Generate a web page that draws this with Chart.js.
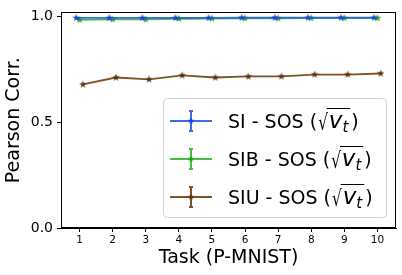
<!DOCTYPE html>
<html>
<head>
<meta charset="utf-8">
<script src="https://cdn.jsdelivr.net/npm/chart.js@4.4.0/dist/chart.umd.min.js"></script>
<style>
  html, body { margin: 0; padding: 0; background: #fff; }
  #grafik { display: block; }
</style>
</head>
<body>
<canvas id="grafik" width="402" height="275"></canvas>
<script>
// data
const tasks = [1, 2, 3, 4, 5, 6, 7, 8, 9, 10];
const siSos = [0.994, 0.994, 0.994, 0.994, 0.994, 0.995, 0.995, 0.995, 0.995, 0.995];
const sibSos = [0.985, 0.987, 0.987, 0.990, 0.991, 0.992, 0.992, 0.993, 0.993, 0.993];
const siuSos = [0.679, 0.712, 0.703, 0.722, 0.712, 0.717, 0.717, 0.726, 0.726, 0.731];
const seriesNames = ['SI', 'SIB', 'SIU'];
const yTicks = [0, 0.5, 1.0];
const dodge = 0.1; // geser sedikit supaya titik tidak bertumpuk

const warna = [
    { line: 'rgba(30,80,230,0.85)', mark: '#1a40d8' },
    { line: 'rgba(30,180,30,0.85)', mark: '#1aa01a' },
    { line: 'rgba(110,65,15,0.9)', mark: '#5a3000' }
];

const FONT = '"DejaVu Sans", sans-serif';

function bintang(r, color) {
    const c = document.createElement('canvas');
    const s = Math.ceil(r * 2 + 2);
    c.width = s; c.height = s;
    const g = c.getContext('2d');
    g.fillStyle = color;
    g.beginPath();
    for (let i = 0; i < 10; i++) {
        const rad = i % 2 === 0 ? r : r * 0.382;
        const a = -Math.PI / 2 + i * Math.PI / 5;
        const px = s / 2 + rad * Math.cos(a);
        const py = s / 2 + rad * Math.sin(a);
        i === 0 ? g.moveTo(px, py) : g.lineTo(px, py);
    }
    g.closePath();
    g.fill();
    return c;
}

function buatSeri(vals, idx) {
    const geser = (idx - 1) * dodge;
    return {
        label: seriesNames[idx] + ' - SOS',
        data: tasks.map((t, i) => ({ x: t + geser, y: vals[i] })),
        borderColor: warna[idx].line,
        backgroundColor: warna[idx].mark,
        borderWidth: 1.8,
        pointStyle: bintang(4, warna[idx].mark),
        pointRadius: 4,
        tension: 0
    };
}

// bingkai atas & kanan + legenda
const pluginBingkai = {
    id: 'bingkai',
    afterDraw(chart) {
        const { ctx, chartArea: a } = chart;
        ctx.save();
        ctx.strokeStyle = '#000';
        ctx.lineWidth = 1;
        ctx.strokeRect(Math.round(a.left) + 0.5, Math.round(a.top) + 0.5,
            Math.round(a.right - a.left) - 1, Math.round(a.bottom - a.top) - 1);

        // kotak legenda
        const bx = 163, by = 98, bw = 223, bh = 119, r = 4;
        ctx.beginPath();
        ctx.roundRect(bx + 0.5, by + 0.5, bw, bh, r);
        ctx.fillStyle = 'rgba(255,255,255,0.8)';
        ctx.fill();
        ctx.strokeStyle = '#d0d0d0';
        ctx.stroke();

        seriesNames.forEach((nama, i) => {
            const cy = 121 + i * 38;
            ctx.strokeStyle = warna[i].line;
            ctx.lineWidth = 2;
            ctx.beginPath();
            ctx.moveTo(170, cy); ctx.lineTo(212, cy);
            ctx.moveTo(191, cy - 10); ctx.lineTo(191, cy + 10);
            ctx.moveTo(189, cy - 10); ctx.lineTo(193, cy - 10);
            ctx.moveTo(189, cy + 10); ctx.lineTo(193, cy + 10);
            ctx.stroke();
            const b = bintang(3.5, warna[i].mark);
            ctx.drawImage(b, 191 - b.width / 2, cy - b.height / 2);
            tulisLabel(ctx, 228, cy + 7, nama + ' - SOS (');
        });
        ctx.restore();
    }
};

function tulisLabel(ctx, x, base, awal) {
    ctx.fillStyle = '#000';
    ctx.strokeStyle = '#000';
    ctx.textBaseline = 'alphabetic';
    ctx.textAlign = 'left';
    ctx.font = '19px ' + FONT;
    ctx.fillText(awal, x, base);
    x += ctx.measureText(awal).width + 1;
    // tanda akar sedikit lebih tinggi
    ctx.save();
    ctx.translate(x, base + 2);
    ctx.scale(0.8, 1.15);
    ctx.fillText('\u221A', 0, 0);
    ctx.restore();
    x += ctx.measureText('\u221A').width * 0.8;
    const garisMulai = x - 1;
    x += 1;
    ctx.font = 'italic 23px ' + FONT;
    ctx.fillText('v', x, base);
    x += ctx.measureText('v').width;
    ctx.font = 'italic 15px ' + FONT;
    ctx.fillText('t', x, base + 4);
    x += ctx.measureText('t').width + 2;
    ctx.lineWidth = 1;
    ctx.beginPath();
    ctx.moveTo(garisMulai, base - 19.5);
    ctx.lineTo(x, base - 19.5);
    ctx.stroke();
    ctx.font = '19px ' + FONT;
    ctx.fillText(')', x + 1, base);
}

new Chart(document.getElementById('grafik').getContext('2d'), {
    type: 'line',
    data: {
        datasets: [buatSeri(siSos, 0), buatSeri(sibSos, 1), buatSeri(siuSos, 2)]
    },
    options: {
        responsive: false,
        animation: false,
        devicePixelRatio: 1,
        layout: { padding: { left: 0, right: 6, top: 9, bottom: 0 } },
        plugins: { legend: { display: false }, tooltip: { enabled: false } },
        scales: {
            x: {
                type: 'linear',
                min: 0.44,
                max: 10.56,
                afterBuildTicks: s => { s.ticks = tasks.map(v => ({ value: v })); },
                afterFit: s => { s.height = 47; },
                grid: { display: true, drawOnChartArea: false, drawTicks: true, tickLength: 4, color: '#000' },
                border: { display: true, color: '#000', width: 1 },
                ticks: { color: '#000', font: { family: FONT, size: 10.5 }, padding: 2, maxRotation: 0 },
                title: {
                    display: true, text: 'Task (P-MNIST)', color: '#000',
                    font: { family: FONT, size: 19 }, padding: { top: 0, bottom: 6 }
                }
            },
            y: {
                min: 0,
                max: 1.02,
                afterBuildTicks: s => { s.ticks = yTicks.map(v => ({ value: v })); },
                afterFit: s => { s.width = 61; },
                grid: { display: true, drawOnChartArea: false, drawTicks: true, tickLength: 4, color: '#000' },
                border: { display: true, color: '#000', width: 1 },
                ticks: { color: '#000', font: { family: FONT, size: 14 }, padding: 4, callback: v => v.toFixed(1) },
                title: {
                    display: true, text: 'Pearson Corr.', color: '#000',
                    font: { family: FONT, size: 19 }, padding: { top: 3, bottom: 0 }
                }
            }
        }
    },
    plugins: [pluginBingkai]
});
</script>
</body>
</html>
